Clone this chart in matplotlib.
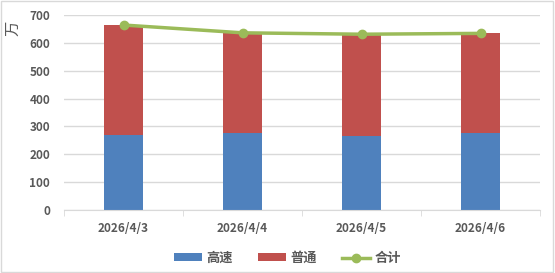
import matplotlib.pyplot as plt
import numpy as np
from matplotlib.patches import Rectangle

plt.rcParams['font.family'] = ['Noto Sans CJK SC', 'DejaVu Sans']

dates = ['2026/4/3', '2026/4/4', '2026/4/5', '2026/4/6']
gaosu = [269, 276, 267, 276]
putong = [395, 360, 364, 358]
heji = [g + p for g, p in zip(gaosu, putong)]

blue = '#4F81BD'
red = '#C0504D'
green = '#9BBB59'
grid_c = '#D9D9D9'
text_c = '#595959'

fig = plt.figure(figsize=(5.55, 2.73), dpi=100)
ax = fig.add_axes([64 / 555, 1 - 210 / 273, 476 / 555, 195 / 273])

x = np.arange(len(dates))
b1 = ax.bar(x, gaosu, width=0.32, color=blue, label='高速', zorder=2)
b2 = ax.bar(x, putong, width=0.32, bottom=gaosu, color=red, label='普通', zorder=2)
l1, = ax.plot(x, heji, color=green, lw=2.5, marker='o', ms=6, label='合计', zorder=3)

ax.set_xlim(-0.5, 3.5)
ax.set_ylim(0, 700)
ax.set_yticks(range(0, 701, 100))
ax.yaxis.grid(True, color=grid_c, lw=1)
ax.set_axisbelow(True)
for s in ['top', 'right', 'left']:
    ax.spines[s].set_visible(False)
ax.spines['bottom'].set_color(grid_c)

ax.set_xticks(x)
ax.set_xticklabels(dates)
ax.set_xticks(np.arange(-0.5, 4, 1), minor=True)
ax.tick_params(axis='x', which='major', length=0, pad=9, labelsize=8.5, labelcolor=text_c)
ax.tick_params(axis='x', which='minor', length=4, color=grid_c, direction='out')
ax.tick_params(axis='y', length=0, pad=10, labelsize=8.5, labelcolor=text_c)
for lab in ax.get_xticklabels() + ax.get_yticklabels():
    lab.set_fontweight('bold')

ax.set_ylabel('万', fontsize=11, color=text_c, rotation=90)
ax.yaxis.set_label_coords(-0.09, 0.93)

leg = fig.legend([b1, b2, l1], ['高速', '普通', '合计'], loc='center',
                 bbox_to_anchor=(0.518, 1 - 258 / 273), ncol=3,
                 frameon=False, fontsize=9.5, handlelength=2.1, handleheight=0.55,
                 handletextpad=0.35, columnspacing=1.9)
for t in leg.get_texts():
    t.set_color(text_c)
    t.set_fontweight('bold')

fig.patches.append(Rectangle((0.001, 0.003), 0.996, 0.993, transform=fig.transFigure,
                             fill=False, edgecolor=grid_c, lw=1))

fig.savefig('out.png', dpi=100)
